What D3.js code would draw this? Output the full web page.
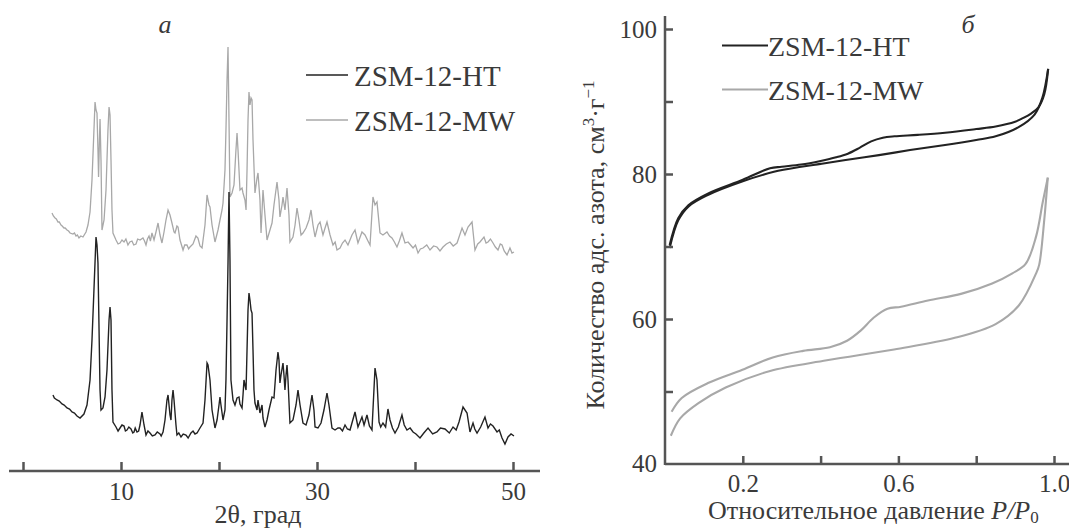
<!DOCTYPE html>
<html>
<head>
<meta charset="utf-8">
<script src="https://cdn.jsdelivr.net/npm/d3@7"></script>
<style>
  html, body { margin: 0; padding: 0; background: #fff; }
  svg { display: block; }
  text { font-family: "Liberation Serif", "DejaVu Serif", serif; fill: #3a3a3a; }
</style>
</head>
<body>
<div id="chart"></div>
<script>
// XRD patterns (2θ, intensity a.u.)
var htPattern = [[3.06,76],[3.2,73],[3.47,71],[3.7,70],[3.98,67],[4.2,66],[4.49,63],[4.75,62],[5.0,59],[5.25,58],[5.51,55],[5.82,53],[6.22,57],[6.53,66],[6.84,91],[7.04,131],[7.24,181],[7.45,234],[7.55,226],[7.65,208],[7.76,141],[7.86,81],[7.96,61],[8.16,63],[8.37,74],[8.57,101],[8.78,151],[8.88,164],[8.98,151],[9.08,81],[9.18,49],[9.49,44],[9.7,40],[9.9,43],[10.1,46],[10.31,45],[10.45,40],[10.61,41],[10.8,44],[11.02,42],[11.2,38],[11.33,39],[11.45,43],[11.63,39],[11.8,40],[11.94,46],[12.14,59],[12.35,46],[12.55,36],[12.75,40],[12.96,38],[13.2,35],[13.47,36],[13.7,39],[13.98,37],[14.1,35],[14.29,39],[14.49,51],[14.69,71],[14.8,76],[15.0,56],[15.1,51],[15.2,71],[15.31,81],[15.41,71],[15.61,46],[15.71,36],[15.9,38],[16.12,34],[16.35,37],[16.63,36],[16.85,33],[17.14,38],[17.35,40],[17.55,37],[17.76,38],[18.06,43],[18.37,48],[18.57,71],[18.78,108],[18.88,106],[19.08,91],[19.29,61],[19.59,43],[19.8,51],[20.0,66],[20.1,74],[20.2,66],[20.41,51],[20.61,61],[20.71,91],[20.82,151],[20.92,208],[21.02,279],[21.12,211],[21.22,91],[21.43,71],[21.63,66],[21.84,73],[22.04,74],[22.14,67],[22.35,63],[22.45,76],[22.55,91],[22.65,86],[22.76,81],[22.86,121],[22.96,161],[23.06,178],[23.16,171],[23.27,161],[23.37,158],[23.47,121],[23.57,81],[23.67,68],[23.88,61],[23.98,71],[24.18,58],[24.39,66],[24.49,53],[24.69,44],[24.9,51],[25.1,61],[25.41,74],[25.61,73],[25.82,101],[26.02,119],[26.12,111],[26.22,88],[26.33,96],[26.53,108],[26.63,96],[26.73,81],[26.84,96],[26.94,106],[27.04,91],[27.24,48],[27.55,51],[27.86,66],[28.06,81],[28.27,66],[28.57,48],[28.88,46],[29.18,56],[29.49,76],[29.69,61],[29.8,44],[30.1,43],[30.41,48],[30.71,61],[31.02,78],[31.22,66],[31.53,43],[31.84,41],[32.14,43],[32.35,43],[32.6,40],[32.86,46],[33.1,42],[33.37,41],[33.88,59],[34.18,44],[34.59,54],[34.8,46],[35.1,56],[35.35,45],[35.61,41],[35.92,103],[36.12,91],[36.33,49],[36.5,44],[36.73,48],[37.0,44],[37.24,62],[37.45,51],[37.7,43],[37.96,38],[38.3,44],[38.67,56],[38.9,46],[39.18,41],[39.5,43],[39.8,39],[40.1,37],[40.51,33],[40.9,38],[41.33,43],[41.8,37],[42.24,39],[42.6,43],[43.06,42],[43.5,38],[43.88,44],[44.2,41],[44.49,49],[44.9,64],[45.31,58],[45.61,39],[45.92,48],[46.1,42],[46.33,38],[46.7,44],[47.14,54],[47.45,43],[47.7,47],[47.96,45],[48.37,39],[48.6,41],[48.88,33],[49.18,27],[49.49,34],[49.8,37],[50.1,35]];

var mwPattern = [[2.96,258],[3.1,255],[3.27,253],[3.4,252],[3.57,249],[3.7,249],[3.88,246],[4.0,245],[4.18,243],[4.3,243],[4.49,241],[4.65,240],[4.8,238],[5.1,237],[5.25,238],[5.41,235],[5.55,236],[5.71,233],[5.9,235],[6.12,234],[6.43,239],[6.63,246],[6.84,259],[7.04,291],[7.24,341],[7.35,369],[7.45,361],[7.55,358],[7.65,321],[7.71,294],[7.8,331],[7.86,352],[7.96,311],[8.06,241],[8.27,251],[8.47,281],[8.67,341],[8.78,364],[8.88,356],[8.98,311],[9.08,261],[9.18,238],[9.49,231],[9.7,227],[9.9,228],[10.1,231],[10.31,229],[10.5,232],[10.71,226],[10.9,229],[11.12,230],[11.3,226],[11.53,227],[11.7,232],[11.94,231],[12.24,233],[12.4,230],[12.55,226],[12.7,232],[12.86,235],[13.0,230],[13.16,238],[13.37,231],[13.57,239],[13.78,248],[13.98,236],[14.18,228],[14.39,239],[14.59,251],[14.8,261],[15.0,256],[15.2,248],[15.41,239],[15.51,238],[15.71,245],[15.82,244],[16.02,231],[16.33,221],[16.5,226],[16.73,226],[16.9,222],[17.04,224],[17.35,227],[17.65,235],[17.85,233],[18.06,225],[18.27,223],[18.57,246],[18.78,276],[18.98,266],[19.08,264],[19.29,246],[19.59,229],[19.9,241],[20.1,251],[20.31,261],[20.41,268],[20.61,301],[20.71,341],[20.82,391],[20.92,424],[21.02,351],[21.12,274],[21.33,278],[21.53,286],[21.73,321],[21.84,338],[21.94,321],[22.14,281],[22.35,283],[22.45,278],[22.65,271],[22.76,261],[22.86,301],[22.96,351],[23.06,379],[23.16,366],[23.27,373],[23.37,371],[23.47,331],[23.67,278],[23.88,293],[23.98,298],[24.18,271],[24.29,238],[24.49,281],[24.69,256],[24.9,231],[25.2,241],[25.41,248],[25.61,266],[25.92,289],[26.12,271],[26.22,254],[26.43,266],[26.53,274],[26.73,261],[26.94,283],[27.14,256],[27.24,229],[27.55,234],[27.76,246],[27.96,263],[28.16,251],[28.37,236],[28.57,238],[28.88,243],[29.18,251],[29.39,261],[29.59,246],[29.8,234],[30.1,246],[30.31,249],[30.61,236],[30.82,243],[31.02,249],[31.33,236],[31.63,226],[31.85,229],[32.04,221],[32.35,223],[32.6,228],[32.86,231],[33.16,226],[33.57,236],[33.88,241],[34.18,228],[34.59,239],[34.9,236],[35.2,230],[35.41,226],[35.71,274],[35.92,266],[36.12,269],[36.43,238],[36.73,236],[37.14,239],[37.4,235],[37.65,233],[37.9,229],[38.16,224],[38.4,230],[38.67,238],[38.98,228],[39.29,229],[39.55,226],[39.8,223],[40.05,226],[40.31,218],[40.55,222],[40.82,223],[41.2,226],[41.53,221],[41.9,225],[42.24,224],[42.55,220],[42.86,224],[43.2,227],[43.57,229],[43.9,225],[44.29,228],[44.8,243],[45.1,236],[45.41,244],[45.82,249],[46.12,221],[46.4,227],[46.63,229],[47.04,234],[47.25,228],[47.45,229],[47.7,232],[47.96,228],[48.2,224],[48.47,221],[48.7,227],[48.88,226],[49.1,220],[49.39,216],[49.69,223],[49.9,218],[50.1,219]];

// N2 isotherms (P/P0, cm3/g)
var htAdsP = [0.012, 0.034, 0.06, 0.11, 0.20, 0.28, 0.35, 0.40, 0.46, 0.55, 0.63, 0.72, 0.80, 0.85, 0.91, 0.95, 0.97, 0.985];
var htAdsV = [69.8, 73.6, 75.5, 77.1, 79.0, 80.3, 81.0, 81.4, 81.9, 82.6, 83.3, 84.0, 84.7, 85.2, 86.5, 88.2, 90.5, 94.5];
var htDesP = [0.985, 0.975, 0.96, 0.94, 0.92, 0.90, 0.85, 0.80, 0.72, 0.65, 0.59, 0.56, 0.53, 0.50, 0.47, 0.44, 0.40, 0.35, 0.30, 0.27, 0.20, 0.11, 0.06, 0.034, 0.012];
var htDesV = [94.5, 91.0, 89.2, 88.3, 87.7, 87.2, 86.55, 86.2, 85.7, 85.4, 85.2, 85.0, 84.5, 83.6, 82.8, 82.3, 81.8, 81.3, 81.0, 80.8, 79.2, 77.3, 75.7, 73.9, 70.2];
var mwAdsP = [0.015, 0.039, 0.086, 0.156, 0.268, 0.416, 0.589, 0.745, 0.850, 0.910, 0.954, 0.962, 0.975, 0.984];
var mwAdsV = [43.9, 46.3, 48.4, 50.55, 52.8, 54.3, 55.8, 57.4, 59.3, 61.9, 66.3, 67.5, 73.7, 79.5];
var mwDesP = [0.984, 0.971, 0.954, 0.927, 0.893, 0.841, 0.763, 0.676, 0.607, 0.572, 0.537, 0.503, 0.468, 0.424, 0.355, 0.277, 0.199, 0.112, 0.043, 0.017];
var mwDesV = [79.5, 76.1, 71.4, 67.6, 66.3, 64.9, 63.5, 62.55, 61.7, 61.4, 60.2, 58.4, 57.0, 56.1, 55.6, 54.7, 53.0, 51.2, 49.1, 47.2];

var seriesNames = ["ZSM-12-HT", "ZSM-12-MW"];
var seriesColors = ["#222222", "#a8a8a8"];

var width = 1069, height = 531;
var axisColor = "#555";

var svg = d3.select("#chart").append("svg")
  .attr("width", width)
  .attr("height", height);

// ---------------- panel a: XRD ----------------
var xA = d3.scaleLinear().domain([0, 50]).range([23, 513]);
var yA = d3.scaleLinear().domain([0, 430]).range([471, 41]);

var gA = svg.append("g");

var lineA = d3.line()
  .x(function (d) { return xA(d[0]); })
  .y(function (d) { return yA(d[1]); });

gA.append("path").datum(mwPattern)
  .attr("d", lineA).attr("fill", "none")
  .attr("stroke", seriesColors[1]).attr("stroke-width", 1.3);
gA.append("path").datum(htPattern)
  .attr("d", lineA).attr("fill", "none")
  .attr("stroke", seriesColors[0]).attr("stroke-width", 1.4);

var axA = gA.append("g")
  .attr("transform", "translate(0,471)")
  .call(d3.axisBottom(xA).tickValues([0, 10, 20, 30, 40, 50])
    .tickSize(-9).tickPadding(11)
    .tickFormat(function (d) { return d % 20 === 10 ? d : ""; }));
axA.select(".domain").remove();
axA.selectAll(".tick line").attr("stroke", axisColor).attr("stroke-width", 2.5);
axA.selectAll(".tick text").attr("font-size", 25).attr("fill", "#3a3a3a")
  .attr("font-family", "Liberation Serif");
gA.append("line").attr("x1", 9).attr("x2", 540).attr("y1", 471).attr("y2", 471)
  .attr("stroke", axisColor).attr("stroke-width", 2.5);

gA.append("text").attr("x", 258).attr("y", 523).attr("text-anchor", "middle")
  .attr("font-size", 26).text("2θ, град");
gA.append("text").attr("x", 165).attr("y", 33).attr("text-anchor", "middle")
  .attr("font-size", 26).attr("font-style", "italic").text("а");

// legend a
seriesNames.forEach(function (name, i) {
  var ly = 75 + i * 45;
  gA.append("line").attr("x1", 306).attr("x2", 348).attr("y1", ly).attr("y2", ly)
    .attr("stroke", seriesColors[i]).attr("stroke-width", 1.6);
  gA.append("text").attr("x", 354).attr("y", ly + 10.5).attr("font-size", 29).text(name);
});

// ---------------- panel б: isotherms ----------------
var xB = d3.scaleLinear().domain([0, 1]).range([665, 1054]);
var yB = d3.scaleLinear().domain([40, 100]).range([464, 29]);

var gB = svg.append("g");

var lineB = d3.line()
  .x(function (d) { return xB(d[0]); })
  .y(function (d) { return yB(d[1]); })
  .curve(d3.curveCatmullRom.alpha(0.5));

function zip(p, v) { return p.map(function (x, i) { return [x, v[i]]; }); }

var branches = [
  { data: zip(mwAdsP, mwAdsV), c: 1 },
  { data: zip(mwDesP, mwDesV), c: 1 },
  { data: zip(htAdsP, htAdsV), c: 0 },
  { data: zip(htDesP, htDesV), c: 0 }
];
branches.forEach(function (b) {
  gB.append("path").datum(b.data)
    .attr("d", lineB).attr("fill", "none")
    .attr("stroke", seriesColors[b.c]).attr("stroke-width", 2.1);
});

var axBx = gB.append("g")
  .attr("transform", "translate(0,464)")
  .call(d3.axisBottom(xB).tickValues([0.2, 0.4, 0.6, 0.8, 1.0])
    .tickSize(-8).tickPadding(10)
    .tickFormat(function (d) { return Math.round(d * 10) % 4 === 2 ? d3.format(".1f")(d) : ""; }));
axBx.select(".domain").remove();

var axBy = gB.append("g")
  .attr("transform", "translate(665,0)")
  .call(d3.axisLeft(yB).tickValues([50, 60, 70, 80, 90, 100])
    .tickSize(-8).tickPadding(8)
    .tickFormat(function (d) { return d % 20 === 0 ? d : ""; }));
axBy.select(".domain").remove();

gB.selectAll(".tick line").attr("stroke", axisColor).attr("stroke-width", 2.5);
gB.selectAll(".tick text").attr("font-size", 25).attr("fill", "#3a3a3a")
  .attr("font-family", "Liberation Serif");

gB.append("text").attr("x", 657).attr("y", 464).attr("dy", "0.32em")
  .attr("text-anchor", "end").attr("font-size", 25).text("40");

gB.append("line").attr("x1", 665).attr("x2", 1069).attr("y1", 464).attr("y2", 464)
  .attr("stroke", axisColor).attr("stroke-width", 2.5);
gB.append("line").attr("x1", 665).attr("x2", 665).attr("y1", 16).attr("y2", 465)
  .attr("stroke", axisColor).attr("stroke-width", 2.5);

// y title
var yt = gB.append("text")
  .attr("transform", "translate(604,245) rotate(-90)")
  .attr("text-anchor", "middle").attr("font-size", 26);
yt.append("tspan").text("Количество адс. азота, см");
yt.append("tspan").attr("font-size", 17).attr("dy", -10).text("3");
yt.append("tspan").attr("dy", 10).text("·г");
yt.append("tspan").attr("font-size", 17).attr("dy", -10).text("−1");

// x title
var xt = gB.append("text").attr("x", 708).attr("y", 519).attr("font-size", 26);
xt.append("tspan").text("Относительное давление  ");
xt.append("tspan").attr("font-style", "italic").text("P/P");
xt.append("tspan").attr("font-size", 17).attr("dy", 4).text("0");

gB.append("text").attr("x", 968).attr("y", 33).attr("text-anchor", "middle")
  .attr("font-size", 26).attr("font-style", "italic").text("б");

// legend б
seriesNames.forEach(function (name, i) {
  var ly = 45.5 + i * 44;
  gB.append("line").attr("x1", 722).attr("x2", 768).attr("y1", ly).attr("y2", ly)
    .attr("stroke", seriesColors[i]).attr("stroke-width", 2.2);
  gB.append("text").attr("x", 768).attr("y", ly + 10).attr("font-size", 28).text(name);
});
</script>
</body>
</html>
